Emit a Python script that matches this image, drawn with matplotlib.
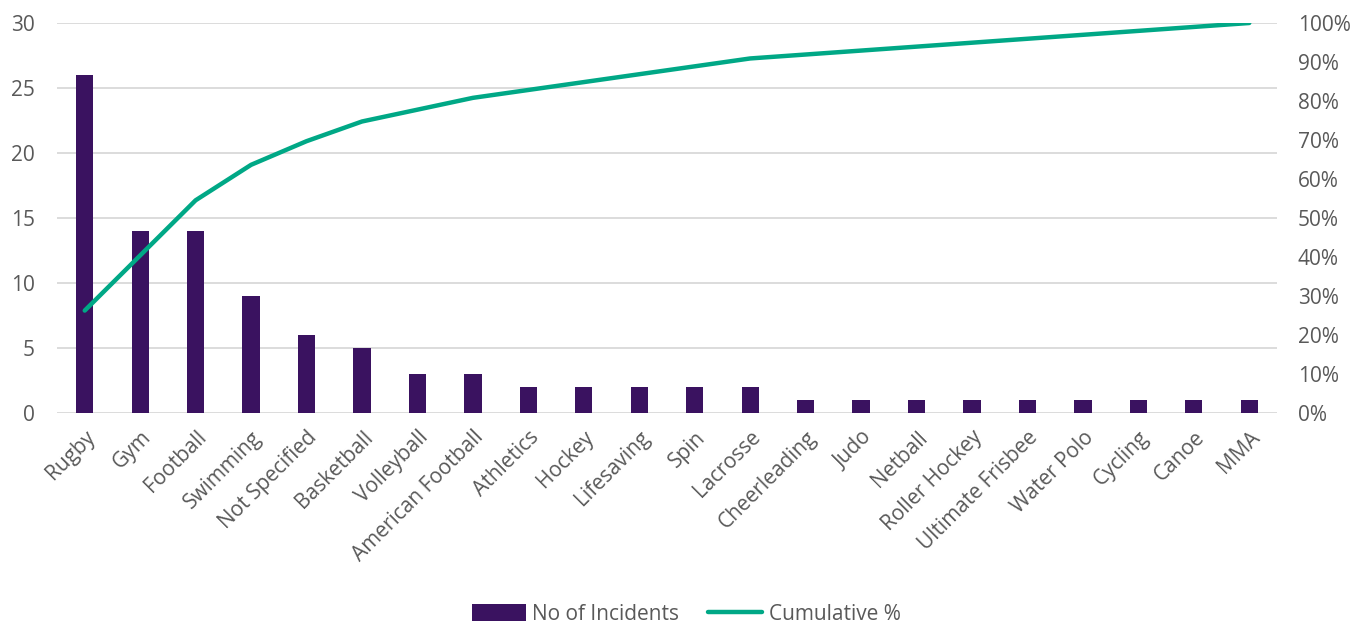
import matplotlib.pyplot as plt
import numpy as np
from matplotlib.ticker import PercentFormatter

plt.rcParams['font.family'] = ['Open Sans', 'DejaVu Sans']

sports = ["Rugby", "Gym", "Football", "Swimming", "Not Specified", "Basketball",
          "Volleyball", "American Football", "Athletics", "Hockey", "Lifesaving",
          "Spin", "Lacrosse", "Cheerleading", "Judo", "Netball", "Roller Hockey",
          "Ultimate Frisbee", "Water Polo", "Cycling", "Canoe", "MMA"]
incidents = [26, 14, 14, 9, 6, 5, 3, 3, 2, 2, 2, 2, 2, 1, 1, 1, 1, 1, 1, 1, 1, 1]

# pareto line: running share of all incidents
counts = np.array(incidents)
cumulative = counts.cumsum() / counts.sum() * 100

bar_col = "#3a1260"
line_col = "#00a886"
txt_col = "#595959"
grid_col = "#d9d9d9"

fig = plt.figure(figsize=(13.7, 6.25), dpi=100)
ax = fig.add_axes([57 / 1370, 1 - 413 / 625, 1220 / 1370, 390 / 625])
x = np.arange(len(sports))

bars = ax.bar(x, incidents, width=0.31, color=bar_col, zorder=3, label="No of Incidents")
ax.set_xlim(-0.5, len(sports) - 0.5)
ax.set_ylim(0, 30)
ax.set_yticks(range(0, 31, 5))
ax.grid(axis="y", color=grid_col, linewidth=1.3, zorder=0)
for s in ax.spines.values():
    s.set_visible(False)
ax.tick_params(length=0, labelsize=15, colors=txt_col)
ax.tick_params(axis="y", pad=16)
ax.set_xticks(x)
ax.set_xticklabels(sports, rotation=45, ha="right", rotation_mode="anchor")
ax.tick_params(axis="x", pad=10)

ax2 = ax.twinx()
line, = ax2.plot(x, cumulative, color=line_col, linewidth=3.2, solid_capstyle="round",
                 zorder=4, label="Cumulative %")
ax2.set_ylim(0, 100)
ax2.set_yticks(range(0, 101, 10))
ax2.yaxis.set_major_formatter(PercentFormatter(decimals=0))
for s in ax2.spines.values():
    s.set_visible(False)
ax2.tick_params(length=0, labelsize=15, colors=txt_col, pad=15)

fig.legend([bars, line], ["No of Incidents", "Cumulative %"], loc="center",
           bbox_to_anchor=(686 / 1370, 1 - 614 / 625), ncol=2, frameon=False,
           fontsize=15, labelcolor=txt_col, handlelength=2.6, handleheight=0.9,
           handletextpad=0.3, columnspacing=1.4)

fig.savefig("out.png", dpi=100, facecolor="white")
